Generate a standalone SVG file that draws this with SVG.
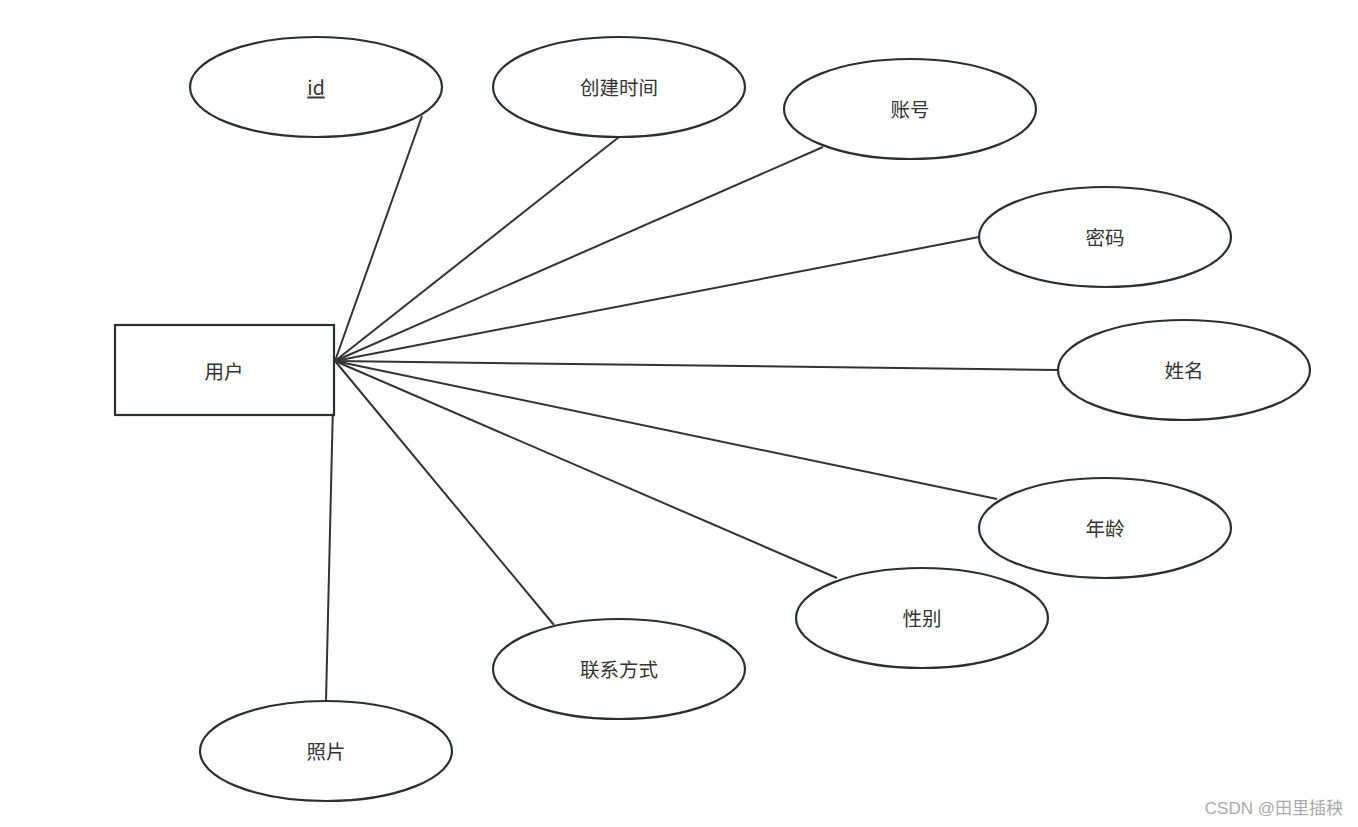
<svg xmlns="http://www.w3.org/2000/svg" width="1358" height="827" viewBox="0 0 1358 827">
<style>
.n{fill:#fff;stroke:#2b2f33;stroke-width:2.2}
.t{font-family:"Noto Sans CJK SC","Liberation Sans",sans-serif;font-size:19.5px;fill:#333;text-anchor:middle;dominant-baseline:central}
.c line{stroke:#333;stroke-width:2}
</style>
<rect width="1358" height="827" fill="#fff"/>
<g class="c" id="connectors">
<line x1="335" y1="361" x2="422" y2="116"/>
<line x1="335" y1="361" x2="619" y2="137"/>
<line x1="335" y1="361" x2="823" y2="147"/>
<line x1="335" y1="361" x2="979" y2="237"/>
<line x1="335" y1="361" x2="1058" y2="370"/>
<line x1="335" y1="361" x2="997" y2="499"/>
<line x1="335" y1="361" x2="837" y2="578"/>
<line x1="335" y1="361" x2="554" y2="625"/>
<line x1="334" y1="361" x2="326" y2="701"/>
</g>
<g id="user"><rect class="n" x="115" y="325" width="219" height="90"/><text class="t" x="224" y="370">用户</text></g>
<g id="id"><ellipse class="n" cx="316" cy="87" rx="126" ry="50"/><text class="t" x="316" y="86" text-decoration="underline" font-family="Liberation Sans, sans-serif">id</text></g>
<g id="ctime"><ellipse class="n" cx="619" cy="87" rx="126" ry="50"/><text class="t" x="619" y="86">创建时间</text></g>
<g id="account"><ellipse class="n" cx="910" cy="109" rx="126" ry="50"/><text class="t" x="910" y="108">账号</text></g>
<g id="password"><ellipse class="n" cx="1105" cy="237" rx="126" ry="50"/><text class="t" x="1105" y="236">密码</text></g>
<g id="name"><ellipse class="n" cx="1184" cy="370" rx="126" ry="50"/><text class="t" x="1184" y="369">姓名</text></g>
<g id="age"><ellipse class="n" cx="1105" cy="528" rx="126" ry="50"/><text class="t" x="1105" y="527">年龄</text></g>
<g id="gender"><ellipse class="n" cx="922" cy="618" rx="126" ry="50"/><text class="t" x="922" y="617">性别</text></g>
<g id="contact"><ellipse class="n" cx="619" cy="669" rx="126" ry="50"/><text class="t" x="619" y="668">联系方式</text></g>
<g id="photo"><ellipse class="n" cx="326" cy="751" rx="126" ry="50"/><text class="t" x="326" y="750">照片</text></g>
<text x="1343" y="808" font-family="Liberation Sans,'Noto Sans CJK SC',sans-serif" font-size="17" fill="#aaa" text-anchor="end" dominant-baseline="central">CSDN @田里插秧</text>
</svg>
